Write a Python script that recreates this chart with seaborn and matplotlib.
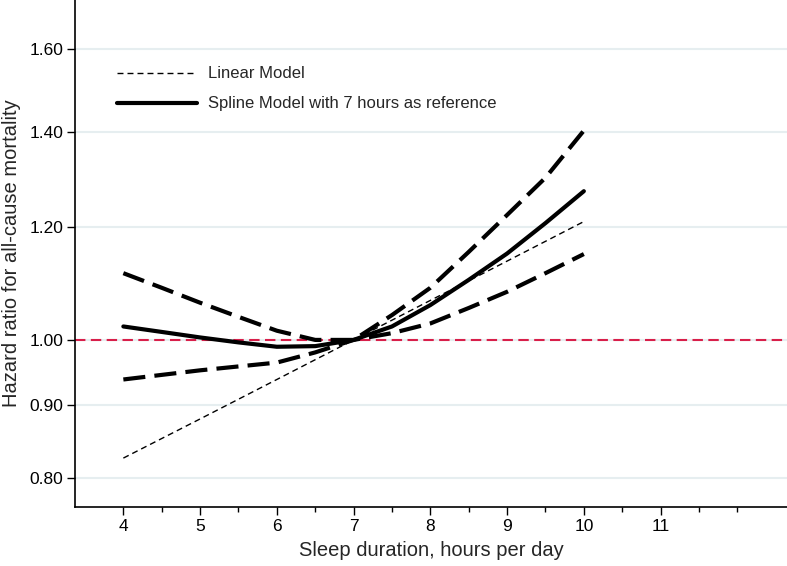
import numpy as np
import pandas as pd
import seaborn as sns
import matplotlib.pyplot as plt
from matplotlib.ticker import FixedLocator, NullLocator, FixedFormatter

# Values (hazard ratios, log scale)
hours = [4, 4.5, 5, 5.5, 6, 6.5, 7, 7.5, 8, 8.5, 9, 9.5, 10]
spline_hr = [1.022, 1.013, 1.004, 0.996, 0.989, 0.990, 1.0, 1.022, 1.058, 1.102, 1.150, 1.208, 1.272]
upper_ci = [1.114, 1.088, 1.062, 1.038, 1.015, 1.000, 1.0, 1.041, 1.088, 1.153, 1.224, 1.300, 1.403]
lower_ci = [0.938, 0.945, 0.952, 0.958, 0.964, 0.980, 1.0, 1.011, 1.027, 1.053, 1.081, 1.114, 1.149]
linear_hours = [4, 5, 6, 7, 8, 9, 10]
linear_hr = [0.826, 0.880, 0.938, 1.0, 1.066, 1.136, 1.211]

y_ticks = [0.80, 0.90, 1.00, 1.20, 1.40, 1.60]
x_ticks = [4, 5, 6, 7, 8, 9, 10, 11]
x_minor = [4.5, 5.5, 6.5, 7.5, 8.5, 9.5, 10.5, 11.5, 12]

sns.set_style("ticks")
plt.rcParams['font.family'] = ['Liberation Sans', 'DejaVu Sans']

fig = plt.figure(figsize=(7.87, 5.66), dpi=100)
ax = fig.add_axes([0.0953, 0.104, 0.905, 0.896])

ax.set_yscale('log')
for yv in y_ticks:
    ax.axhline(yv, color='#e6eef0', lw=1.5, zorder=0)
ax.axhline(1.0, color='#d81f4a', lw=1.5, linestyle=(0, (5, 2.6)), zorder=1)

df = pd.DataFrame({'hours': hours, 'spline': spline_hr, 'upper': upper_ci, 'lower': lower_ci})
lin = pd.DataFrame({'hours': linear_hours, 'hr': linear_hr})

sns.lineplot(data=df, x='hours', y='upper', ax=ax, color='black', lw=3,
             linestyle=(0, (5.3, 2.2)), zorder=3)
sns.lineplot(data=df, x='hours', y='lower', ax=ax, color='black', lw=3,
             linestyle=(0, (5.3, 2.2)), zorder=3)
sns.lineplot(data=df, x='hours', y='spline', ax=ax, color='black', lw=3,
             label='Spline Model with 7 hours as reference', zorder=3)
sns.lineplot(data=lin, x='hours', y='hr', ax=ax, color='black', lw=1,
             linestyle=(0, (4.3, 2.9)), label='Linear Model', zorder=3)

ax.set_xlim(3.37, 12.65)
ax.set_ylim(0.763, 1.733)

ax.yaxis.set_major_locator(FixedLocator(y_ticks))
ax.yaxis.set_major_formatter(FixedFormatter(['%.2f' % v for v in y_ticks]))
ax.yaxis.set_minor_locator(NullLocator())
ax.xaxis.set_major_locator(FixedLocator(x_ticks))
ax.xaxis.set_minor_locator(FixedLocator(x_minor))

ax.tick_params(axis='both', which='major', labelsize=12.5, length=5.5, width=1,
               color='black', labelcolor='black', pad=3)
ax.tick_params(axis='x', which='minor', length=3.5, width=1, color='black')

for s in ['top', 'right']:
    ax.spines[s].set_visible(False)
for s in ['left', 'bottom']:
    ax.spines[s].set_color('black')
    ax.spines[s].set_linewidth(1.2)

ax.set_xlabel('Sleep duration, hours per day', fontsize=14.5, labelpad=5)
ax.set_ylabel('Hazard ratio for all-cause mortality', fontsize=14.5, labelpad=6)

handles, labels = ax.get_legend_handles_labels()
order = [labels.index('Linear Model'), labels.index('Spline Model with 7 hours as reference')]
ax.legend([handles[i] for i in order], [labels[i] for i in order],
          loc='upper left', bbox_to_anchor=(0.059, 0.869), frameon=False,
          fontsize=12, handlelength=4.8, handletextpad=0.65, labelspacing=0.9,
          borderaxespad=0, borderpad=0)

fig.savefig('out.png', dpi=100)
